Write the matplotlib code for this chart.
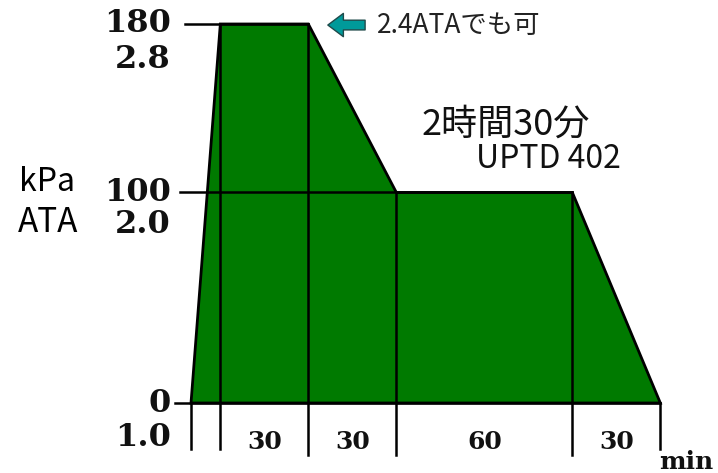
import matplotlib
matplotlib.use("Agg")
import matplotlib.pyplot as plt

# treatment table: time points (min) and gauge pressure (kPa)
times = [0, 10, 40, 70, 130, 160]
pressure = [0, 180, 180, 100, 100, 0]

# left axis labels: kPa value, ATA value
kpa_labels = ["180", "100", "0"]
kpa_values = [180, 100, 0]
ata_labels = ["2.8", "2.0", "1.0"]

# durations under the stages
stage_labels = ["30", "30", "60", "30"]

green = "#007a00"
serif = "DejaVu Serif"
sans = ["Noto Sans CJK JP", "DejaVu Sans"]

fig = plt.figure(figsize=(7.18, 4.73), dpi=100)
ax = fig.add_axes([0, 0, 1, 1])
# pixel mapping: x px = 191 + t*88/30, y px = 403 - p*2.1056
ax.set_xlim((0 - 191) * 30 / 88, (718 - 191) * 30 / 88)
ax.set_ylim((403 - 473) / 2.1056, 403 / 2.1056)
ax.axis("off")

# green profile
ax.fill(times, pressure, facecolor=green, edgecolor="black", linewidth=2.0, zorder=2)

# vertical separators down to the duration row
bottoms = [-22, -22, -24.5, -24.5, -24.5, -22]
for t, p, b in zip(times, pressure, bottoms):
    ax.plot([t, t], [b, p], color="black", linewidth=1.8, zorder=3)

# horizontal level lines from the axis labels
ax.plot([-2.0, times[2]], [180, 180], color="black", linewidth=1.8, zorder=3)
ax.plot([-3.75, times[4]], [100, 100], color="black", linewidth=1.8, zorder=3)
ax.plot([-5.5, times[5]], [0, 0], color="black", linewidth=1.8, zorder=3)

# level labels
ata_offsets = [-17.1, -15.2, -16.6]
for lab, v, ata, off in zip(kpa_labels, kpa_values, ata_labels, ata_offsets):
    ax.text(-6.8, v, lab, ha="right", va="center", fontsize=23,
            family=serif, fontweight="bold", color="#111111")
    ax.text(-6.8, v + off, ata, ha="right", va="center", fontsize=23,
            family=serif, fontweight="bold", color="#111111")

ax.text(-49.1, 105, "kPa", ha="center", va="center", fontsize=23, family=sans)
ax.text(-48.7, 85.5, "ATA", ha="center", va="center", fontsize=24, family=sans)

# durations
for i, lab in enumerate(stage_labels):
    mid = (times[i + 1] + times[i + 2]) / 2
    ax.text(mid, -18.5, lab, ha="center", va="center", fontsize=18,
            family=serif, fontweight="bold", color="#111111")
ax.text(168.8, -28, "min", ha="center", va="center", fontsize=18,
        family=serif, fontweight="bold", color="#111111")

# note arrow
ax.annotate("", xy=(45.7, 179.5), xytext=(60.3, 179.5),
            arrowprops=dict(arrowstyle="simple,head_length=0.8,head_width=1.2,tail_width=0.5",
                            mutation_scale=14, fc="#009a9a", ec="#1f4a4a", lw=1.0))
ax.text(63.4, 179.5, "2.4ATAでも可", ha="left", va="center", fontsize=19,
        family=sans, color="#222222")

ax.text(107.4, 132, "2時間30分", ha="center", va="center", fontsize=26,
        family=sans, color="#111111")
ax.text(121.7, 115.9, "UPTD 402", ha="center", va="center", fontsize=23,
        family=sans, color="#111111")

fig.savefig("out.png", dpi=100)
